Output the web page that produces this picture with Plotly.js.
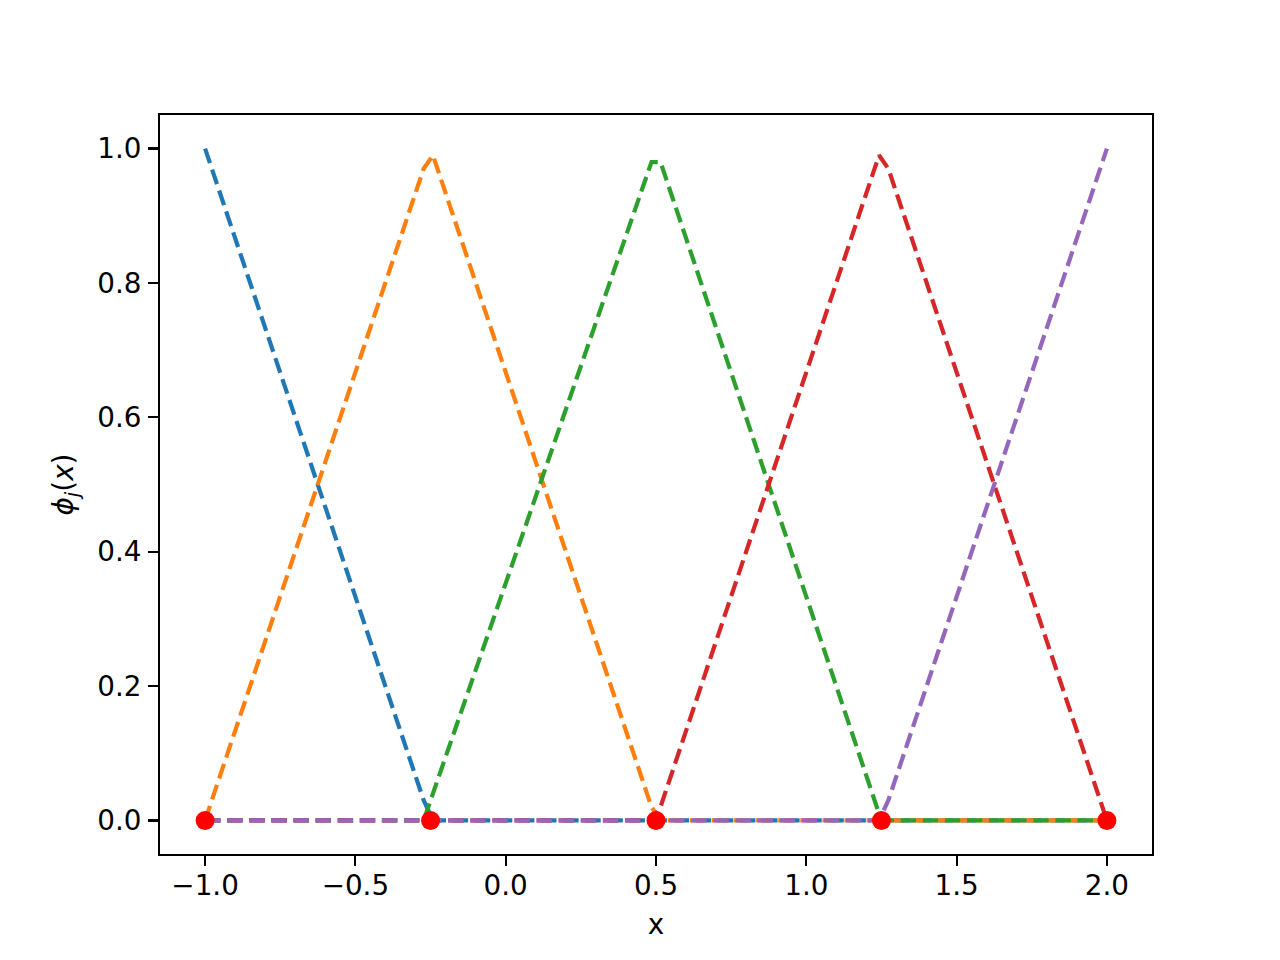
<!DOCTYPE html>
<html>
<head>
<meta charset="utf-8">
<script src="https://cdn.plot.ly/plotly-3.0.1.min.js"></script>
<style>html,body{margin:0;padding:0;background:#fff;}#chart{width:1280px;height:960px;}</style>
</head>
<body>
<div id="chart"></div>
<script>
// Node positions (red dots)
const nodeX = [-1.0, -0.25, 0.5, 1.25, 2.0];
const nodeY = [0, 0, 0, 0, 0];

// Basis functions phi_j(x), breakpoints
const phi0X = [-1.0, -0.273, -0.242, 2.0];
const phi0Y = [1.0, 0.03, 0.0, 0.0];

const phi1X = [-1.0, -0.273, -0.242, 0.485, 0.515, 2.0];
const phi1Y = [0.0, 0.97, 0.99, 0.02, 0.0, 0.0];

const phi2X = [-1.0, -0.273, 0.485, 0.515, 1.242, 1.273, 2.0];
const phi2Y = [0.0, 0.0, 0.98, 0.98, 0.01, 0.0, 0.0];

const phi3X = [-1.0, 0.485, 0.515, 1.242, 1.273, 2.0];
const phi3Y = [0.0, 0.0, 0.02, 0.99, 0.97, 0.0];

const phi4X = [-1.0, 1.242, 1.273, 2.0];
const phi4Y = [0.0, 0.0, 0.03, 1.0];

const colors = ['#1f77b4', '#ff7f0e', '#2ca02c', '#d62728', '#9467bd'];
const xTicks = [-1.0, -0.5, 0.0, 0.5, 1.0, 1.5, 2.0];
const yTicks = [0.0, 0.2, 0.4, 0.6, 0.8, 1.0];

const series = [[phi0X, phi0Y], [phi1X, phi1Y], [phi2X, phi2Y], [phi3X, phi3Y], [phi4X, phi4Y]];
const traces = series.map((s, i) => ({
  x: s[0], y: s[1], type: 'scatter', mode: 'lines',
  line: {color: colors[i], width: 4.2, dash: '15.4px,6.7px'},
  hoverinfo: 'skip'
}));
traces.push({
  x: nodeX, y: nodeY, type: 'scatter', mode: 'markers',
  marker: {color: 'red', size: 19, line: {width: 0}},
  hoverinfo: 'skip'
});

const font = {family: 'DejaVu Sans, sans-serif', size: 27.8, color: '#000'};
const axisCommon = {
  showline: true, mirror: true, linecolor: '#000', linewidth: 2.2,
  ticks: 'outside', ticklen: 9.7, tickwidth: 2.2, tickcolor: '#000',
  showgrid: false, zeroline: false, tickfont: font, tickformat: '.1f'
};

const layout = {
  width: 1280, height: 960,
  margin: {l: 160, r: 128, t: 115, b: 106, pad: 0},
  paper_bgcolor: '#fff', plot_bgcolor: '#fff',
  showlegend: false,
  font: font,
  xaxis: Object.assign({}, axisCommon, {
    range: [-1.15, 2.15], tickvals: xTicks, ticklabelstandoff: -4,
    title: {text: 'x', font: font, standoff: 13}
  }),
  yaxis: Object.assign({}, axisCommon, {
    range: [-0.05, 1.05], tickvals: yTicks, ticklabelstandoff: 1,
    title: {text: '<i>ϕ</i><sub><i>j</i></sub>(<i>x</i>)', font: font, standoff: 16}
  })
};

Plotly.newPlot('chart', traces, layout, {staticPlot: true, displayModeBar: false});
</script>
</body>
</html>
